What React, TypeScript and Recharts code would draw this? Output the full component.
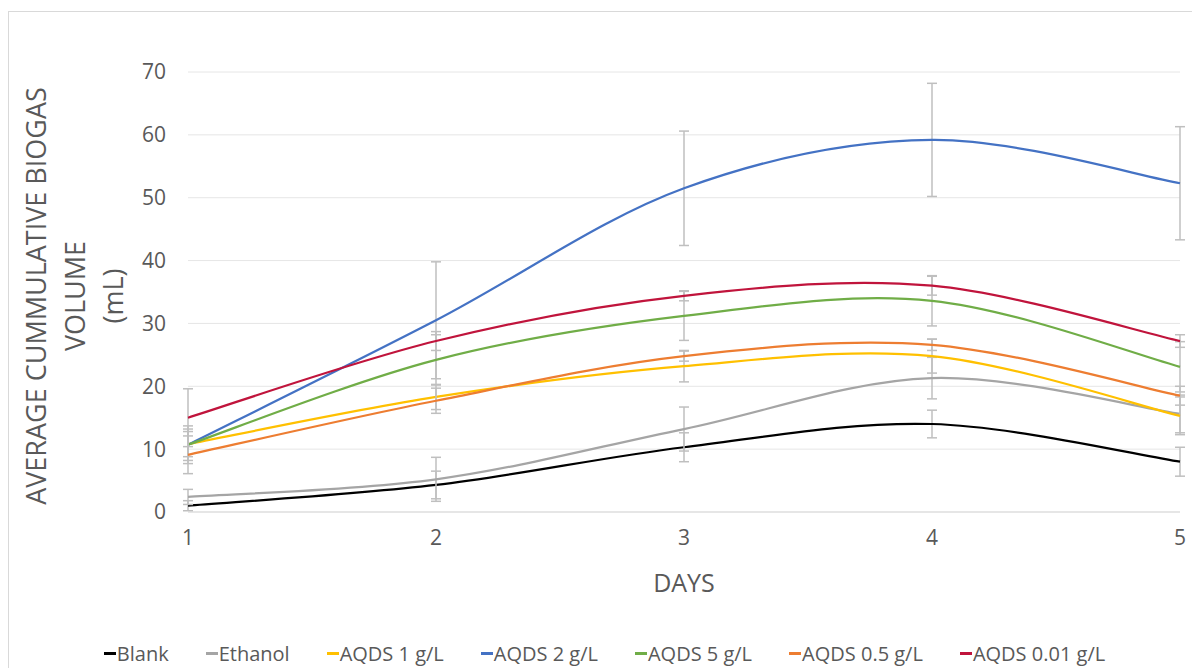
import React from "react";
import { LineChart, Line, XAxis, YAxis, CartesianGrid, ErrorBar } from "recharts";

const days = [1, 2, 3, 4, 5];

const blank = [1.0, 4.3, 10.3, 14.0, 8.0];
const ethanol = [2.4, 5.2, 13.2, 21.3, 15.6];
const aqds1 = [10.8, 18.3, 23.2, 24.8, 15.3];
const aqds2 = [10.7, 30.5, 51.5, 59.2, 52.3];
const aqds5 = [10.7, 24.2, 31.2, 33.6, 23.1];
const aqds05 = [9.1, 17.7, 24.8, 26.6, 18.5];
const aqds001 = [15.0, 27.2, 34.4, 36.0, 27.2];

const blankErr = [0.8, 2.2, 2.3, 2.2, 2.3];
const ethanolErr = [1.2, 3.5, 3.5, 3.3, 3.0];
const aqds1Err = [2.0, 2.0, 2.5, 2.7, 3.0];
const aqds2Err = [3.0, 9.3, 9.1, 9.0, 9.0];
const aqds5Err = [2.5, 4.0, 3.9, 4.0, 4.0];
const aqds05Err = [3.0, 2.0, 0.8, 0.9, 1.5];
const aqds001Err = [4.6, 1.5, 0.8, 1.5, 1.0];

const yTicks = [0, 10, 20, 30, 40, 50, 60, 70];

const series = [
  { key: "blank", name: "Blank", color: "#000000", values: blank, err: blankErr },
  { key: "ethanol", name: "Ethanol", color: "#a5a5a5", values: ethanol, err: ethanolErr },
  { key: "aqds1", name: "AQDS 1 g/L", color: "#ffc000", values: aqds1, err: aqds1Err },
  { key: "aqds2", name: "AQDS 2 g/L", color: "#4472c4", values: aqds2, err: aqds2Err },
  { key: "aqds5", name: "AQDS 5 g/L", color: "#70ad47", values: aqds5, err: aqds5Err },
  { key: "aqds05", name: "AQDS 0.5 g/L", color: "#ed7d31", values: aqds05, err: aqds05Err },
  { key: "aqds001", name: "AQDS 0.01 g/L", color: "#c0143c", values: aqds001, err: aqds001Err },
];

const data = days.map((day, i) => {
  const row: Record<string, number> = { day };
  series.forEach((s) => {
    row[s.key] = s.values[i];
    row[s.key + "Err"] = s.err[i];
  });
  return row;
});

// smoothed line like the spreadsheet one (catmull-rom style beziers)
function smoothCurve(context: any) {
  let pts: number[][] = [];
  return {
    areaStart() {},
    areaEnd() {},
    lineStart() {
      pts = [];
    },
    point(x: number, y: number) {
      pts.push([+x, +y]);
    },
    lineEnd() {
      if (!pts.length) return;
      context.moveTo(pts[0][0], pts[0][1]);
      const t = 1 / 6;
      for (let i = 0; i < pts.length - 1; i++) {
        const p0 = pts[i - 1] || pts[i];
        const p1 = pts[i];
        const p2 = pts[i + 1];
        const p3 = pts[i + 2] || p2;
        context.bezierCurveTo(
          p1[0] + (p2[0] - p0[0]) * t,
          p1[1] + (p2[1] - p0[1]) * t,
          p2[0] - (p3[0] - p1[0]) * t,
          p2[1] - (p3[1] - p1[1]) * t,
          p2[0],
          p2[1]
        );
      }
    },
  };
}

const FONT = "'Open Sans', sans-serif";
const TXT = "#595959";

const YTitle = (props: any) => {
  const vb = props.viewBox || { y: 60, height: 440 };
  const cy = vb.y + vb.height / 2 + 4;
  const lines = [
    { text: "AVERAGE CUMMULATIVE BIOGAS", x: 26 },
    { text: "VOLUME", x: 65 },
    { text: "(mL)", x: 103 },
  ];
  return (
    <g>
      {lines.map((l) => (
        <text
          key={l.text}
          x={l.x}
          y={cy}
          transform={`rotate(-90, ${l.x}, ${cy})`}
          textAnchor="middle"
          dominantBaseline="central"
          fontFamily={FONT}
          fontSize={27}
          fill={TXT}
        >
          {l.text}
        </text>
      ))}
    </g>
  );
};

const XTitle = (props: any) => {
  const vb = props.viewBox || { x: 179, y: 500, width: 992 };
  return (
    <text
      x={vb.x + vb.width / 2}
      y={vb.y + 80}
      textAnchor="middle"
      fontFamily={FONT}
      fontSize={25}
      fill={TXT}
    >
      DAYS
    </text>
  );
};

export default function App() {
  return (
    <div
      style={{
        position: "relative",
        top: 3,
        width: 1191,
        height: 659,
        borderLeft: "1px solid #d9d9d9",
        borderTop: "1px solid #d9d9d9",
        background: "#fff",
      }}
    >
      <LineChart
        width={1191}
        height={659}
        data={data}
        margin={{ top: 60, right: 20, left: 119, bottom: 0 }}
      >
        <CartesianGrid vertical={false} stroke="#e6e6e6" strokeWidth={1} />
        <XAxis
          dataKey="day"
          type="number"
          domain={[1, 5]}
          ticks={days}
          height={159}
          axisLine={{ stroke: "#d9d9d9" }}
          tickLine={false}
          tickMargin={12}
          tick={{ fontFamily: FONT, fontSize: 21, fill: TXT }}
          label={{ content: XTitle }}
        />
        <YAxis
          width={60}
          domain={[0, 70]}
          ticks={yTicks}
          axisLine={false}
          tickLine={false}
          tickMargin={16}
          tick={{ fontFamily: FONT, fontSize: 21, fill: TXT }}
          label={{ content: YTitle }}
        />
        {series.map((s) => (
          <Line
            key={s.key}
            dataKey={s.key}
            name={s.name}
            stroke={s.color}
            strokeWidth={2.25}
            type={smoothCurve as any}
            dot={false}
            activeDot={false}
            isAnimationActive={false}
          >
            <ErrorBar
              dataKey={s.key + "Err"}
              direction="y"
              width={5}
              stroke="#bfbfbf"
              strokeWidth={1.5}
              isAnimationActive={false}
            />
          </Line>
        ))}
      </LineChart>
      <div
        style={{
          position: "absolute",
          left: 0,
          width: 1191,
          top: 628,
          display: "flex",
          justifyContent: "center",
          gap: 37,
          fontFamily: FONT,
          fontSize: 20,
          color: TXT,
          paddingRight: 0,
          boxSizing: "border-box",
        }}
      >
        {series.map((s) => (
          <div key={s.key} style={{ display: "flex", alignItems: "center" }}>
            <span
              style={{
                display: "inline-block",
                width: 12,
                height: 3,
                background: s.color,
                marginRight: 1,
              }}
            />
            <span>{s.name}</span>
          </div>
        ))}
      </div>
    </div>
  );
}
